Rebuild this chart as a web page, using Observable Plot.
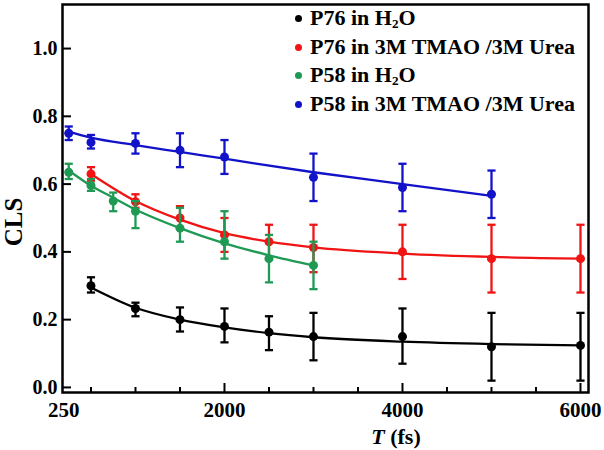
<!DOCTYPE html>
<html>
<head>
<meta charset="utf-8">
<script src="https://cdn.jsdelivr.net/npm/d3@7"></script>
<script src="https://cdn.jsdelivr.net/npm/@observablehq/plot@0.6"></script>
<style>
  html, body { margin: 0; padding: 0; background: #fff; }
  #wrap { position: relative; width: 604px; height: 450px; font-family: "Liberation Serif", "Times New Roman", serif; font-weight: bold; }
  .ov { position: absolute; white-space: nowrap; color: #000; line-height: 1; }
  .leg { position: absolute; left: 294px; top: 4px; font-size: 22px; }
  .leg div { position: relative; padding-left: 16px; height: 28.5px; line-height: 28.5px; }
  .leg span.d { position: absolute; left: 1px; top: 11px; width: 7px; height: 7px; border-radius: 50%; }
  sub { font-size: 0.6em; vertical-align: baseline; position: relative; top: 0.25em; line-height: 0; }
</style>
</head>
<body>
<div id="wrap"></div>
<script>
// ---- data ----
const seriesNames = ["P76 in H2O", "P76 in 3M TMAO /3M Urea", "P58 in H2O", "P58 in 3M TMAO /3M Urea"];
const seriesColors = ["#000000", "#f01414", "#1f9a55", "#1212c8"];

const p76H2O_T   = [500, 1000, 1500, 2000, 2500, 3000, 4000, 5000, 6000];
const p76H2O_y   = [0.300, 0.233, 0.200, 0.180, 0.163, 0.150, 0.150, 0.120, 0.124];
const p76H2O_lo  = [0.280, 0.210, 0.165, 0.133, 0.110, 0.080, 0.070, 0.020, 0.020];
const p76H2O_hi  = [0.325, 0.250, 0.236, 0.233, 0.210, 0.220, 0.233, 0.220, 0.220];
const p76H2O_fit = [0.295, 0.235, 0.200, 0.177, 0.160, 0.148, 0.135, 0.128, 0.124];

const p76Mix_T   = [500, 1000, 1500, 2000, 2500, 3000, 4000, 5000, 6000];
const p76Mix_y   = [0.630, 0.548, 0.500, 0.450, 0.430, 0.413, 0.400, 0.380, 0.380];
const p76Mix_lo  = [0.610, 0.530, 0.470, 0.400, 0.380, 0.340, 0.320, 0.280, 0.280];
const p76Mix_hi  = [0.650, 0.570, 0.535, 0.500, 0.480, 0.480, 0.480, 0.480, 0.480];
const p76Mix_fit = [0.630, 0.550, 0.495, 0.455, 0.430, 0.413, 0.395, 0.385, 0.380];

const p58H2O_T   = [250, 500, 750, 1000, 1500, 2000, 2500, 3000];
const p58H2O_y   = [0.635, 0.596, 0.550, 0.520, 0.470, 0.430, 0.380, 0.360];
const p58H2O_lo  = [0.615, 0.580, 0.520, 0.470, 0.430, 0.380, 0.310, 0.290];
const p58H2O_hi  = [0.660, 0.615, 0.575, 0.550, 0.530, 0.520, 0.450, 0.430];
const p58H2O_fit = [0.640, 0.595, 0.560, 0.525, 0.470, 0.425, 0.390, 0.360];

const p58Mix_T   = [250, 500, 1000, 1500, 2000, 3000, 4000, 5000];
const p58Mix_y   = [0.750, 0.723, 0.720, 0.700, 0.680, 0.620, 0.590, 0.570];
const p58Mix_lo  = [0.730, 0.705, 0.690, 0.650, 0.630, 0.550, 0.520, 0.500];
const p58Mix_hi  = [0.770, 0.745, 0.750, 0.750, 0.730, 0.690, 0.660, 0.640];
const p58Mix_fit = [0.755, 0.737, 0.715, 0.695, 0.675, 0.635, 0.600, 0.565];

const xTickLabels = [250, 2000, 4000, 6000];
const xMajorTicks = [2000, 4000, 6000];
const xMinorTicks = [500, 1000, 1500, 2500, 3000, 3500, 4500, 5000, 5500];
const yTicks = [0.0, 0.2, 0.4, 0.6, 0.8, 1.0];

// ---- build table ----
const raw = [
  [p76H2O_T, p76H2O_y, p76H2O_lo, p76H2O_hi, p76H2O_fit],
  [p76Mix_T, p76Mix_y, p76Mix_lo, p76Mix_hi, p76Mix_fit],
  [p58H2O_T, p58H2O_y, p58H2O_lo, p58H2O_hi, p58H2O_fit],
  [p58Mix_T, p58Mix_y, p58Mix_lo, p58Mix_hi, p58Mix_fit]
];
const rows = [];
raw.forEach(([T, y, lo, hi, fit], i) => {
  T.forEach((t, j) => rows.push({series: seriesNames[i], T: t, y: y[j], lo: lo[j], hi: hi[j], fit: fit[j]}));
});

const capSymbol = {
  draw(ctx, size) {
    const w = Math.sqrt(size) / 2;
    ctx.moveTo(-w, 0);
    ctx.lineTo(w, 0);
  }
};

const font = '"Liberation Serif", "Times New Roman", serif';
const marks = [];
seriesNames.forEach((name, i) => {
  const d = rows.filter(r => r.series === name);
  const c = seriesColors[i];
  marks.push(Plot.line(d, {x: "T", y: "fit", stroke: c, strokeWidth: 2.3, curve: "monotone-x"}));
  marks.push(Plot.ruleX(d, {x: "T", y1: "lo", y2: "hi", stroke: c, strokeWidth: 2.3}));
  marks.push(Plot.dot(d, {x: "T", y: "lo", symbol: capSymbol, r: 4.6, stroke: c, fill: "none", strokeWidth: 2.3}));
  marks.push(Plot.dot(d, {x: "T", y: "hi", symbol: capSymbol, r: 4.6, stroke: c, fill: "none", strokeWidth: 2.3}));
  marks.push(Plot.dot(d, {x: "T", y: "y", r: 4.5, fill: c, stroke: "none"}));
});

const chart = Plot.plot({
  width: 604,
  height: 450,
  marginLeft: 62,
  marginRight: 16,
  marginTop: 4,
  marginBottom: 58,
  style: {fontFamily: font, fontWeight: "bold", color: "#000", background: "#fff"},
  x: {domain: [180, 6090]},
  y: {domain: [-0.015, 1.13]},
  marks: [
    ...marks,
    Plot.axisX(xMinorTicks, {anchor: "bottom", tickSize: -5, strokeWidth: 2, tickFormat: () => "", label: null}),
    Plot.axisX(xMajorTicks, {anchor: "bottom", tickSize: -9, tickPadding: 19, strokeWidth: 2, fontSize: 21, fontWeight: "bold", tickFormat: d => String(d), label: null}),
    Plot.axisX([xTickLabels[0]], {anchor: "bottom", tickSize: 0, tickPadding: 10, dx: -5, fontSize: 21, fontWeight: "bold", tickFormat: d => String(d), label: null}),
    Plot.axisY(yTicks, {anchor: "left", tickSize: -9, tickPadding: 14, strokeWidth: 2, fontSize: 20, fontWeight: "bold", tickFormat: d3.format(".1f"), label: null}),
    Plot.frame({stroke: "#000", strokeWidth: 2.5})
  ]
});

const wrap = document.getElementById("wrap");
wrap.appendChild(chart);

// axis titles
const yt = document.createElement("div");
yt.className = "ov";
yt.style.cssText = "left:13px;top:222px;font-size:25px;transform:translate(-50%,-50%) rotate(-90deg);";
yt.textContent = "CLS";
wrap.appendChild(yt);

const xt = document.createElement("div");
xt.className = "ov";
xt.style.cssText = "left:396px;top:437px;font-size:22px;transform:translate(-50%,-50%);";
xt.innerHTML = "<i>T</i> (fs)";
wrap.appendChild(xt);

// legend inside the frame
const legendLabels = ["P76 in H<sub>2</sub>O", "P76 in 3M TMAO /3M Urea", "P58 in H<sub>2</sub>O", "P58 in 3M TMAO /3M Urea"];
const leg = document.createElement("div");
leg.className = "leg";
legendLabels.forEach((lab, i) => {
  const row = document.createElement("div");
  row.innerHTML = `<span class="d" style="background:${seriesColors[i]}"></span>${lab}`;
  leg.appendChild(row);
});
wrap.appendChild(leg);
</script>
</body>
</html>
